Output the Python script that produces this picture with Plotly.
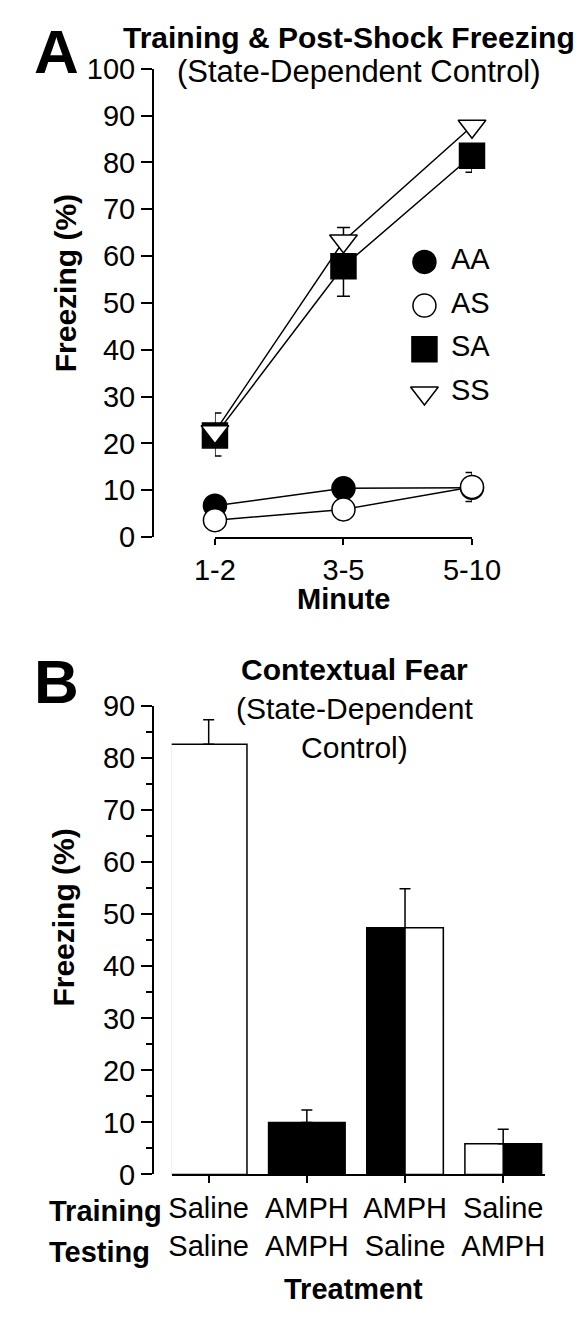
import plotly.graph_objects as go

W, H = 587, 1319
FONT = "Liberation Sans, Arial, sans-serif"
FS = 29

# ---------------- data: panel A ----------------
minutes = ["1-2", "3-5", "5-10"]
groups = ["AA", "AS", "SA", "SS"]
aa_mean = [6.7, 10.4, 10.5]
aa_err = [1.5, 1.5, 3.3]
as_mean = [3.6, 5.9, 10.7]
as_err = [1.2, 1.5, 3.1]
sa_mean = [21.7, 57.8, 81.4]
sa_err = [4.4, 6.4, 3.5]
ss_mean = [22.5, 63.2, 87.7]
ss_err = [4.0, 2.9, 1.0]

# ---------------- data: panel B ----------------
training = ["Saline", "AMPH", "AMPH", "Saline"]
testing = ["Saline", "AMPH", "Saline", "AMPH"]
bar_mean = [82.7, 10.0, 47.4, 5.9]
bar_err = [4.7, 2.4, 7.5, 2.8]


def fx(p):
    return p / W


def fy(p):
    return 1 - p / H


fig = go.Figure()

series = [
    (groups[0], aa_mean, aa_err, "circle", "black", 23, "up"),
    (groups[1], as_mean, as_err, "circle", "white", 23, "down"),
    (groups[2], sa_mean, sa_err, "square", "black", 25, "down"),
    (groups[3], ss_mean, ss_err, "triangle-down", "white", 24, "up"),
]
xs = list(range(len(minutes)))
for name, m, e, sym, col, size, direction in series:
    zeros = [0] * len(e)
    fig.add_trace(go.Scatter(
        x=xs, y=m, mode="lines+markers", name=name, showlegend=False,
        line=dict(color="black", width=1.5),
        marker=dict(symbol=sym, size=size, color=col,
                    line=dict(color="black", width=1.5)),
        error_y=dict(type="data", symmetric=False,
                     array=e if direction == "up" else zeros,
                     arrayminus=zeros if direction == "up" else e,
                     color="black", thickness=1.5, width=6.5),
        cliponaxis=False, xaxis="x", yaxis="y"))

# custom legend (pixel overlay axis)
leg_x_marker, leg_x_text, leg_y0, leg_dy = 441, 468, 249, 44.8
for i, (name, m, e, sym, col, size, direction) in enumerate(series):
    fig.add_trace(go.Scatter(
        x=[leg_x_marker], y=[leg_y0 + leg_dy * i + 3], mode="markers",
        showlegend=False, hoverinfo="skip",
        marker=dict(symbol=sym, size=size, color=col,
                    line=dict(color="black", width=1.5)),
        cliponaxis=False, xaxis="x3", yaxis="y3"))

# ---------------- panel B bars ----------------
drug_color = {"Saline": "white", "AMPH": "black"}
bw = 0.78
bx = list(range(len(training)))
fig.add_trace(go.Bar(
    x=bx, y=bar_mean, width=bw,
    marker=dict(color=[drug_color[t] for t in training],
                line=dict(color="black", width=1.5)),
    error_y=dict(type="data", symmetric=False, array=bar_err,
                 arrayminus=[0] * len(bar_err), color="black",
                 thickness=1.5, width=5.5),
    showlegend=False, xaxis="x2", yaxis="y2"))
split = [i for i in bx if training[i] != testing[i]]
fig.add_trace(go.Bar(
    x=[i + bw / 4 for i in split], y=[bar_mean[i] for i in split],
    width=bw / 2,
    marker=dict(color=[drug_color[testing[i]] for i in split],
                line=dict(color="black", width=1.5)),
    showlegend=False, xaxis="x2", yaxis="y2"))

axis_common = dict(showline=True, linecolor="black", linewidth=1.5,
                   ticks="outside", tickcolor="black", tickwidth=1.5,
                   showgrid=False, zeroline=False,
                   tickfont=dict(family=FONT, size=FS, color="black"))

annotations = []


def ann(text, x, y, size=FS, xanchor="center", angle=0, yanchor="middle"):
    annotations.append(dict(text=text, x=fx(x), y=fy(y), xref="paper",
                            yref="paper", showarrow=False, xanchor=xanchor,
                            yanchor=yanchor, textangle=angle,
                            font=dict(family=FONT, size=size, color="black")))


ann("<b>A</b>", 12, 36, size=62, xanchor="left")
ann("<b>B</b>", 12, 682, size=62, xanchor="left")
ann("<b>Training & Post-Shock Freezing</b>", 358, 22, size=30)
ann("(State-Dependent Control)", 369, 57, size=31)
ann("<b>Freezing (%)</b>", 48, 274, angle=-90, size=30)
ann("<b>Minute</b>", 352, 597)
for i, name in enumerate(groups):
    annotations.append(dict(text=name, x=leg_x_text, y=leg_y0 + leg_dy * i,
                            xref="x3", yref="y3", showarrow=False,
                            xanchor="left", yanchor="middle",
                            font=dict(family=FONT, size=FS, color="black")))
ann("<b>Contextual Fear</b><br>(State-Dependent<br>Control)", 365, 710, size=30)
ann("<b>Freezing (%)</b>", 47, 924, angle=-90, size=30)
ann("<b>Training</b>", 28, 1225, xanchor="left")
ann("<b>Testing</b>", 28, 1267, xanchor="left")
ann("<b>Treatment</b>", 364, 1305)

fig.update_layout(
    width=W, height=H, margin=dict(l=0, r=0, t=0, b=0),
    paper_bgcolor="white", plot_bgcolor="rgba(0,0,0,0)",
    barmode="overlay", showlegend=False,
    font=dict(family=FONT, size=FS, color="black"),
    xaxis=dict(domain=[fx(212), fx(493)], range=[0, 2], anchor="y",
               tickmode="array", tickvals=xs, ticktext=minutes, ticklen=6,
               **axis_common),
    yaxis=dict(domain=[fy(534), fy(54)], range=[0, 100], anchor="free",
               position=fx(144), dtick=10, ticklen=11, **axis_common),
    xaxis2=dict(domain=[fx(164.7), fx(572.8)], range=[-0.377, 3.426],
                anchor="y2", tickmode="array", tickvals=bx,
                ticktext=[f"{a}<br>{b}" for a, b in zip(training, testing)],
                ticklen=7, **axis_common),
    yaxis2=dict(domain=[fy(1187.3), fy(707.3)], range=[0, 90],
                anchor="free", position=fx(144), dtick=10, ticklen=11,
                minor=dict(dtick=5, ticklen=6, ticks="outside",
                           tickcolor="black", tickwidth=1.5),
                **axis_common),
    xaxis3=dict(domain=[0, 1], range=[0, W], visible=False, anchor="y3"),
    yaxis3=dict(domain=[0, 1], range=[H, 0], visible=False, anchor="x3"),
    annotations=annotations,
)

fig.write_html("out.html",
               config={"displayModeBar": False},
               post_script="document.body.style.margin='0';"
                           "document.body.style.overflow='hidden';")
